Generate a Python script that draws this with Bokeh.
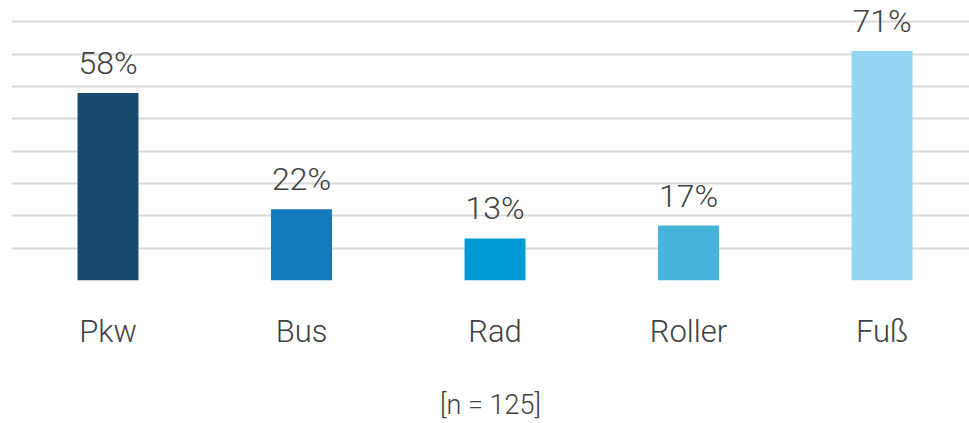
from bokeh.plotting import figure
from bokeh.models import Range1d, FixedTicker, ColumnDataSource
from bokeh.core.properties import value
from bokeh.embed import file_html
from bokeh.resources import INLINE

categories = ["Pkw", "Bus", "Rad", "Roller", "Fuß"]
values = [58, 22, 13, 17, 71]
labels = ["58%", "22%", "13%", "17%", "71%"]
colors = ["#194A6F", "#1279BA", "#009AD5", "#48B3DD", "#97D5F2"]
grid_ticks = [0, 10, 20, 30, 40, 50, 60, 70, 80]
sample_note = "[n = 125]"

FONT = "Roboto Light"
TEXT_COLOR = "#404040"

xpos = list(range(len(categories)))
src = ColumnDataSource(dict(x=xpos, top=values, label=labels, color=colors))

p = figure(width=969, height=423, output_backend="svg", toolbar_location=None,
           x_range=Range1d(-0.4987, 4.452), y_range=Range1d(0, 86.58),
           min_border_left=11, min_border_right=0, min_border_top=0,
           min_border_bottom=143)
p.outline_line_color = None
p.background_fill_color = "white"
p.border_fill_color = "white"

p.vbar(x="x", top="top", width=0.315, bottom=0, fill_color="color",
       line_color=None, source=src)
p.text(x="x", y="top", text="label", source=src, text_align="center",
       text_baseline="alphabetic", y_offset=-30, text_font=value(FONT),
       text_font_size="32px", text_color=TEXT_COLOR)

p.yaxis.visible = False
p.xgrid.visible = False
p.ygrid.ticker = FixedTicker(ticks=grid_ticks)
p.ygrid.grid_line_color = "#D9D9D9"
p.ygrid.grid_line_width = 2

ax = p.xaxis[0]
ax.ticker = FixedTicker(ticks=xpos)
ax.major_label_overrides = {i: c for i, c in enumerate(categories)}
ax.axis_line_color = None
ax.major_tick_line_color = None
ax.minor_tick_line_color = None
ax.major_label_standoff = 26
ax.major_label_text_font = FONT
ax.major_label_text_font_size = "31px"
ax.major_label_text_color = TEXT_COLOR
ax.axis_label = sample_note
ax.axis_label_text_font = FONT
ax.axis_label_text_font_size = "27px"
ax.axis_label_text_font_style = "normal"
ax.axis_label_text_color = TEXT_COLOR
ax.axis_label_standoff = 36

open("out.html", "w").write(file_html(p, INLINE))
